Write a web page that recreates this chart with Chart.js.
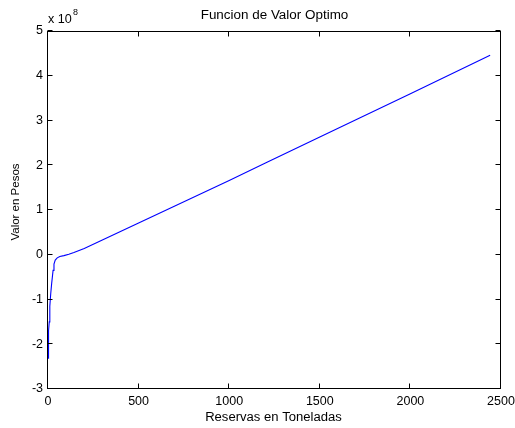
<!DOCTYPE html>
<html>
<head>
<meta charset="utf-8">
<script src="https://cdn.jsdelivr.net/npm/chart.js@4/dist/chart.umd.min.js"></script>
<style>
  html, body { margin: 0; padding: 0; background: #fff; }
  #wrap { width: 515px; height: 428px; }
</style>
</head>
<body>
<div id="wrap"><canvas id="valor-graph" width="515" height="428"></canvas></div>
<script>
// reservas (toneladas) y valor (en unidades de 1e8 pesos)
const reservas = [0, 2, 4, 7, 10, 15, 20, 24, 28, 33, 40, 51, 65, 88, 115, 143, 200, 300, 400, 500, 600, 700, 1000, 1200, 1500, 2000, 2440]
const valor = [-2.31, -1.95, -1.7, -1.5, -1.15, -0.87, -0.65, -0.5, -0.35, -0.21, -0.12, -0.07, -0.04, -0.02, 0.01, 0.05, 0.14, 0.33, 0.52, 0.71, 0.9, 1.09, 1.66, 2.05, 2.63, 3.6, 4.46]
const xTicks = [0, 500, 1000, 1500, 2000, 2500]
const yTicks = [-3, -2, -1, 0, 1, 2, 3, 4, 5]
const exponente = '8'

const FONT = 'Liberation Sans, Arial, Helvetica, sans-serif'

function stretchedText (ctx, text, x, y, size, align, sx) {
  ctx.save()
  ctx.font = size + 'px ' + FONT
  ctx.translate(x, y)
  ctx.scale(sx, 1)
  ctx.textAlign = align
  ctx.fillText(text, 0, 0)
  ctx.restore()
}

const matlabFrame = {
  id: 'matlabFrame',
  afterDatasetsDraw (chart) {
    const { ctx, chartArea: a, scales: { x, y } } = chart
    const L = Math.round(a.left) - 0.5, R = Math.round(a.right) - 0.5
    const T = Math.round(a.top) + 0.5, B = Math.round(a.bottom) - 0.5
    const tl = 5
    ctx.save()
    ctx.strokeStyle = '#000'
    ctx.lineWidth = 1
    ctx.strokeRect(L, T, R - L, B - T)
    ctx.beginPath()
    xTicks.forEach(v => {
      const px = Math.round(x.getPixelForValue(v)) - 0.5
      ctx.moveTo(px, B); ctx.lineTo(px, B - tl)
      ctx.moveTo(px, T); ctx.lineTo(px, T + tl)
    })
    yTicks.forEach(v => {
      const py = Math.round(y.getPixelForValue(v)) - 0.5
      ctx.moveTo(L, py); ctx.lineTo(L + tl, py)
      ctx.moveTo(R, py); ctx.lineTo(R - tl, py)
    })
    ctx.stroke()

    ctx.fillStyle = '#000'
    ctx.textBaseline = 'alphabetic'
    const cx = (a.left + a.right) / 2
    stretchedText(ctx, 'Funcion de Valor Optimo', cx, 19, 12, 'center', 1.12)
    stretchedText(ctx, 'Reservas en Toneladas', cx - 1, 421, 12, 'center', 1.09)
    stretchedText(ctx, 'x 10', a.left, 23, 12, 'left', 1.05)
    stretchedText(ctx, exponente, a.left + 25, 15, 8.5, 'left', 1.05)

    ctx.save()
    ctx.font = '11.5px ' + FONT
    ctx.translate(19, 202)
    ctx.rotate(-Math.PI / 2)
    ctx.textAlign = 'center'
    ctx.fillText('Valor en Pesos', 0, 0)
    ctx.restore()
    ctx.restore()
  }
}

const ctx = document.getElementById('valor-graph').getContext('2d')
new Chart(ctx, {
  type: 'line',
  data: {
    datasets: [{
      data: reservas.map((r, i) => ({ x: r, y: valor[i] })),
      borderColor: '#0000ff',
      borderWidth: 1.1,
      pointRadius: 0,
      tension: 0,
      fill: false
    }]
  },
  options: {
    responsive: false,
    animation: false,
    layout: { padding: { left: 0, right: 14, top: 31, bottom: 0 } },
    plugins: {
      legend: { display: false },
      tooltip: { enabled: false },
      title: { display: false }
    },
    scales: {
      x: {
        type: 'linear',
        min: 0,
        max: 2500,
        afterBuildTicks: s => { s.ticks = xTicks.map(v => ({ value: v })) },
        afterFit: s => { s.height = 39; s.paddingLeft = 0; s.paddingRight = 0 },
        grid: { display: false, drawTicks: false },
        border: { display: false },
        ticks: {
          color: '#000',
          font: { family: FONT, size: 12.5 },
          padding: 5,
          maxRotation: 0,
          autoSkip: false,
          callback: v => String(v)
        }
      },
      y: {
        type: 'linear',
        min: -3,
        max: 5,
        afterBuildTicks: s => { s.ticks = yTicks.map(v => ({ value: v })) },
        afterFit: s => { s.width = 48; s.paddingTop = 0; s.paddingBottom = 0 },
        grid: { display: false, drawTicks: false },
        border: { display: false },
        ticks: { color: '#000', font: { family: FONT, size: 12.5 }, padding: 5, callback: v => String(v) }
      }
    }
  },
  plugins: [matlabFrame]
})
</script>
</body>
</html>
